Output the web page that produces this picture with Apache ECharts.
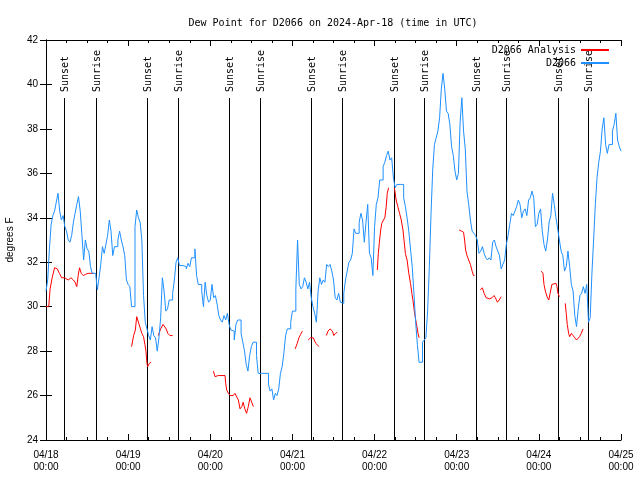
<!DOCTYPE html>
<html><head><meta charset="utf-8">
<script src="https://cdn.jsdelivr.net/npm/echarts/dist/echarts.min.js"></script>
<style>html,body{margin:0;padding:0;background:#fff}#c{width:640px;height:480px}</style>
</head><body><div id="c"></div>
<script>
// ---- data ----
const titleText = 'Dew Point for D2066 on 2024-Apr-18 (time in UTC)';
const dayLabels = ['04/18','04/19','04/20','04/21','04/22','04/23','04/24','04/25'];
const timeLabel = '00:00';
const stepHours = 0.5; // observation spacing (hours since 04/18 00:00)
const observed = [
 30.7,31.2,32.6,33.7,34.1,34.3,34.7,35.1,34.3,33.9,
 34.1,33.6,33.4,33.0,32.9,33.2,33.8,34.2,34.6,34.95,
 34.3,33.2,32.1,33.0,32.6,32.5,31.8,31.5,31.5,31.5,
 30.75,31.3,31.9,32.7,32.4,32.8,33.2,33.9,33.4,32.3,
 32.7,32.7,33.0,33.4,33.0,32.7,32.3,31.2,31.0,30.9,
 30.0,30.0,33.6,34.35,34.0,33.8,33.0,30.5,29.3,29.0,
 28.7,28.5,29.1,28.7,28.6,28.0,28.6,29.5,31.3,30.7,
 29.8,29.9,30.3,30.3,30.6,31.2,32.0,32.2,31.85,31.85,
 31.8,31.8,31.7,31.95,31.8,32.2,32.2,32.6,31.4,31.0,
 31.0,30.7,30.0,31.1,30.5,30.2,30.3,31.0,30.4,30.5,
 30.1,29.6,29.4,29.3,29.6,29.4,29.7,29.2,28.95,28.9,
 28.5,29.2,29.4,29.4,28.8,28.4,28.0,27.4,27.1,27.8,
 28.2,28.4,28.4,27.8,27.0,27.0,27.0,27.0,27.0,27.0,
 26.5,26.2,26.3,25.8,26.1,26.0,26.3,27.0,27.3,27.9,
 28.7,29.0,29.0,29.3,29.8,29.8,30.8,33.0,31.0,30.8,
 30.9,31.3,31.1,30.8,31.1,30.4,30.0,29.7,29.3,30.7,
 31.3,31.0,31.2,31.1,31.9,31.8,31.9,31.6,31.2,30.4,
 30.3,30.6,30.2,30.15,30.6,31.2,31.6,32.0,32.1,32.4,
 33.5,33.3,33.3,33.8,34.2,33.9,32.9,33.8,34.6,32.4,
 32.2,31.4,33.6,34.6,34.9,35.7,35.7,36.3,36.5,36.8,
 37.0,36.6,36.7,35.8,35.35,35.5,35.5,35.5,35.5,34.9,
 34.5,34.0,33.4,32.6,31.8,30.6,29.3,28.3,27.5,27.5,
 28.4,28.5,28.6,29.8,31.8,34.2,36.2,37.3,37.6,37.9,
 38.5,39.8,40.5,39.8,38.8,38.7,38.2,37.2,36.8,36.1,
 35.7,36.0,38.3,39.4,37.9,37.1,35.2,34.6,33.9,33.4,
 33.3,33.2,33.0,32.4,32.5,32.7,32.4,32.2,32.1,32.2,
 32.1,32.9,33.0,32.7,32.5,32.3,31.7,31.9,32.1,32.8,
 33.2,33.7,34.2,34.1,34.3,34.5,34.8,34.6,34.0,34.3,
 34.4,34.1,34.8,34.9,35.2,34.9,33.6,33.7,34.2,34.4,
 33.4,32.8,32.5,33.0,33.8,34.1,35.1,34.6,34.0,33.5,
 33.0,32.5,32.3,31.6,31.8,32.5,31.8,31.0,30.7,29.6,
 29.1,29.9,30.5,30.6,30.9,30.6,31.0,29.3,29.5,31.5,
 33.0,34.6,35.8,36.5,37.0,38.0,38.5,37.3,36.9,37.3,
 37.3,37.9,38.2,38.7,37.5,37.2,37.0
];
// analysis: hours since 04/18 00:00, null = gap
const analysisHours = [
 0,0.8,1.2,1.8,2.5,3.3,3.9,4.6,5.5,6.5,7.3,8.0,8.5,9.0,9.4,9.8,10.3,10.9,11.5,12.3,13.0,14.0, null,
 25.0,25.6,26.1,26.5,26.8,27.1,27.6,28.0,28.5,28.9,29.2,29.5,29.7,30.2,30.7, null,
 32.8,33.5,34.2,34.6,35.1,35.6,36.2,37.0, null,
 48.9,49.4,50.3,52.3,52.5,52.8,53.3,53.8,54.3,54.7,55.2,55.7,56.2,56.7,57.2,57.6,58.1,58.6,59.1,59.6,60.1,60.6, null,
 72.8,73.4,73.9,74.4,74.9, null,
 76.6,77.3,78.1,78.8,79.8, null,
 81.9,82.4,83.0,83.7,84.1,84.6,85.1, null,
 96.8,97.1,97.4,97.8,98.1,98.6,99.0,99.4,99.7,100.1, null,
 101.8,102.3,102.8,103.3,103.8,104.3,104.6,105.0,105.5,106.0,106.5,106.9,107.2,107.7,108.2,108.7,109.0, null,
 120.7,121.4,122.0,122.3,122.6,123.0,123.5,124.0,124.5,124.9,125.2, null,
 126.9,127.5,128.0,128.6,129.6,130.3,130.9,131.3,131.9,132.4,133.0, null,
 144.7,145.2,145.5,145.9,146.4,146.9,147.3,147.8,148.3,149.0,149.3,149.6,150.0, null,
 151.7,152.0,152.3,152.7,153.0,153.5,154.0,154.5,155.0,155.5,155.9,156.4,156.9
];
const analysisValues = [
 30.0,30.0,30.8,31.3,31.75,31.7,31.5,31.3,31.3,31.2,31.3,31.2,31.1,30.9,31.4,31.75,31.5,31.4,31.45,31.5,31.5,31.5, null,
 28.2,28.7,28.95,29.55,29.6,29.25,29.0,28.8,28.65,28.3,28.0,27.45,27.3,27.45,27.5, null,
 28.7,29.0,29.2,29.2,29.0,28.8,28.7,28.7, null,
 27.1,26.85,26.9,26.9,26.55,26.25,26.1,26.0,25.95,26.0,26.1,26.1,25.8,25.4,25.5,25.7,25.4,25.2,25.5,25.9,25.7,25.5, null,
 28.1,28.35,28.6,28.75,28.9, null,
 28.5,28.6,28.6,28.35,28.2, null,
 28.7,28.9,29.0,28.9,28.7,28.8,28.85, null,
 31.65,32.4,32.9,33.45,33.75,33.9,34.0,34.5,35.1,35.35, null,
 35.35,34.8,34.5,34.2,33.9,33.45,33.0,32.4,32.1,31.5,31.05,30.6,30.3,29.7,29.25,28.8,28.6, null,
 33.45,33.4,33.35,33.0,32.55,32.3,32.1,31.9,31.6,31.4,31.4, null,
 30.75,30.85,30.6,30.4,30.35,30.4,30.5,30.4,30.2,30.3,30.45, null,
 31.6,31.5,31.0,30.7,30.45,30.3,30.6,31.0,31.05,31.05,30.9,30.6,30.45, null,
 30.15,29.7,29.2,28.8,28.65,28.8,28.7,28.6,28.5,28.55,28.65,28.8,29.0
];
const sunHours = [5.35,14.7,29.6,38.65,53.55,62.6,77.5,86.55,101.75,110.5,125.7,134.5,149.7,158.45];
const sunLabels = ['Sunset','Sunrise','Sunset','Sunrise','Sunset','Sunrise','Sunset','Sunrise','Sunset','Sunrise','Sunset','Sunrise','Sunset','Sunrise'];
const sunLineTop = 39.4;

// ---- chart ----
const blueData = observed.map((v,i)=>[i*stepHours, v]);
const redData = analysisHours.map((h,i)=> h===null ? [null,null] : [h, analysisValues[i]]);
const MONO = 'DejaVu Sans Mono';
const SANS = 'Liberation Sans';
const chart = echarts.init(document.getElementById('c'), null, {renderer:'canvas'});
const xCommon = {
  type:'value', min:0, max:168, interval:24,
  axisLine:{show:true, lineStyle:{color:'#000', width:1}},
  axisTick:{show:true, inside:true, length:6, lineStyle:{color:'#000'}},
  minorTick:{show:true, splitNumber:4, length:3, lineStyle:{color:'#000'}},
  splitLine:{show:false}, minorSplitLine:{show:false}
};
const yCommon = {
  type:'value', min:24, max:42, interval:2,
  axisLine:{show:true, lineStyle:{color:'#000', width:1}},
  axisTick:{show:true, inside:true, length:6, lineStyle:{color:'#000'}},
  splitLine:{show:false}
};
chart.setOption({
  animation:false,
  backgroundColor:'#fff',
  title:{text:titleText, left:328, top:13, textAlign:'center',
    textStyle:{fontFamily:MONO, fontSize:10, fontWeight:'normal', color:'#000'}},
  legend:{orient:'vertical', right:26, top:40, align:'right', icon:'rect',
    itemWidth:28, itemHeight:2, itemGap:3, selectedMode:false,
    textStyle:{fontFamily:MONO, fontSize:10, color:'#000'},
    data:['D2066 Analysis','D2066']},
  grid:{left:46, right:19, top:40, bottom:40, containLabel:false, outerBoundsMode:'none'},
  xAxis:[
    Object.assign({}, xCommon, {position:'bottom',
      axisLabel:{margin:9, fontFamily:SANS, fontSize:10, color:'#000', lineHeight:12,
        formatter:(v)=> dayLabels[Math.round(v/24)] + '\n' + timeLabel}}),
    Object.assign({}, xCommon, {position:'top', axisLabel:{show:false}})
  ],
  yAxis:[
    Object.assign({}, yCommon, {position:'left',
      name:'degrees F', nameLocation:'middle', nameGap:31, nameRotate:90,
      nameTextStyle:{fontFamily:SANS, fontSize:10, color:'#000'},
      axisLabel:{margin:8, fontFamily:SANS, fontSize:10, color:'#000'}}),
    Object.assign({}, yCommon, {position:'right', axisLabel:{show:false}})
  ],
  series:[
    {type:'custom', name:'sun', xAxisIndex:0, yAxisIndex:0, z:1, silent:true,
     data: sunHours.map(h=>[h, 24]),
     renderItem:(params, api)=>{
       const h = api.value(0);
       const top = api.coord([h, sunLineTop]);
       const bot = api.coord([h, 24]);
       const x = Math.round(top[0]) + 0.5;
       return {type:'group', children:[
         {type:'line', shape:{x1:x, y1:Math.round(top[1]), x2:x, y2:bot[1]},
          style:{stroke:'#000', lineWidth:1}},
         {type:'text', x:x+1, y:Math.round(top[1]) - 6, rotation:Math.PI/2,
          style:{text:sunLabels[params.dataIndex], font:'10px ' + MONO, fill:'#000',
                 align:'left', verticalAlign:'middle'}}
       ]};
     }},
    {type:'line', name:'D2066 Analysis', data:redData, color:'#ff0000',
     symbol:'none', connectNulls:false, lineStyle:{width:1, color:'#ff0000'}, z:3},
    {type:'line', name:'D2066', data:blueData, color:'#1e90ff', step:'end',
     symbol:'none', lineStyle:{width:1, color:'#1e90ff'}, z:4}
  ]
});
</script>
</body></html>
